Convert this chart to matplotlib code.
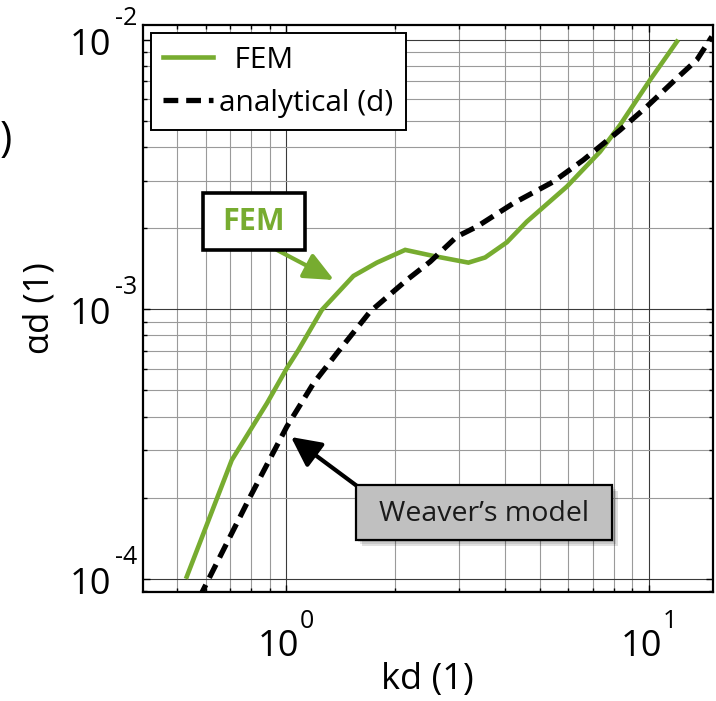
import matplotlib
matplotlib.use("Agg")
import matplotlib.pyplot as plt
import matplotlib.ticker as mticker
from matplotlib.patches import Rectangle, FancyArrowPatch
import numpy as np

plt.rcParams['font.family'] = ['Open Sans', 'DejaVu Sans']

# ---- data ----
fem_kd = [0.532, 0.708, 0.885, 1.004, 1.081, 1.254, 1.533, 1.779, 2.129, 2.547,
          3.181, 3.537, 4.060, 4.609, 5.940, 7.339, 8.333, 10.08, 11.95]
fem_ad = [1.02e-4, 2.76e-4, 4.48e-4, 6.04e-4, 7.06e-4, 9.94e-4, 1.329e-3, 1.489e-3,
          1.660e-3, 1.576e-3, 1.489e-3, 1.556e-3, 1.771e-3, 2.113e-3, 2.848e-3,
          3.839e-3, 4.825e-3, 7.085e-3, 9.82e-3]

ana_kd = [0.5756, 0.796, 1.004, 1.189, 1.380, 1.704, 2.151, 2.495, 2.955, 3.356,
          4.233, 5.458, 6.601, 8.333, 9.874, 11.95, 13.56, 14.92]
ana_ad = [8.5e-5, 2.02e-4, 3.67e-4, 5.31e-4, 6.87e-4, 9.80e-4, 1.284e-3, 1.501e-3,
          1.859e-3, 2.024e-3, 2.472e-3, 2.972e-3, 3.578e-3, 4.62e-3, 5.64e-3,
          7.19e-3, 8.40e-3, 1.025e-2]

xtick_exps = [0, 1]
ytick_exps = [-4, -3, -2]

xlim = (0.403, 15.0)
ylim = (8.95e-5, 1.132e-2)

GREEN = '#77AC30'
W, H = 716, 701

fig = plt.figure(figsize=(W / 100, H / 100), dpi=100)
ax = fig.add_axes([143 / W, 1 - 592 / H, (712.7 - 143) / W, (592 - 25) / H])
ax.set_xscale('log')
ax.set_yscale('log')
ax.set_xlim(*xlim)
ax.set_ylim(*ylim)

ax.grid(True, which='major', color='#3a3a3a', linewidth=0.8)
ax.grid(True, which='minor', color='#9a9a9a', linewidth=0.8)
ax.set_axisbelow(True)

ax.plot(fem_kd, fem_ad, color=GREEN, lw=3.3, label='  FEM', solid_joinstyle='miter')
ax.plot(ana_kd, ana_ad, color='black', lw=3.8, dashes=(2.8, 1.5), label='analytical (d)')

xt = [10.0 ** e for e in xtick_exps]
yt = [10.0 ** e for e in ytick_exps]
ax.set_xticks(xt)
ax.set_yticks(yt)
ax.xaxis.set_minor_locator(mticker.LogLocator(base=10, subs=np.arange(2, 10), numticks=20))
ax.yaxis.set_minor_locator(mticker.LogLocator(base=10, subs=np.arange(2, 10), numticks=20))
ax.xaxis.set_major_formatter(mticker.NullFormatter())
ax.yaxis.set_major_formatter(mticker.NullFormatter())
ax.xaxis.set_minor_formatter(mticker.NullFormatter())
ax.yaxis.set_minor_formatter(mticker.NullFormatter())

ax.tick_params(which='both', direction='in', top=True, right=True, width=1.0, colors='black')
ax.tick_params(which='major', length=5)
ax.tick_params(which='minor', length=3)
for s in ax.spines.values():
    s.set_linewidth(1.6)
    s.set_color('black')

# tick labels: "10" with a raised exponent (MATLAB style)
BASE_FS, EXP_FS = 26, 18
for v, e in zip(xt, xtick_exps):
    ax.annotate('10', xy=(v, 0), xycoords=('data', 'axes fraction'),
                xytext=(13, -64), textcoords='offset pixels', ha='right', va='baseline',
                fontsize=BASE_FS, annotation_clip=False)
    ax.annotate(str(e), xy=(v, 0), xycoords=('data', 'axes fraction'),
                xytext=(14, -36), textcoords='offset pixels', ha='left', va='baseline',
                fontsize=EXP_FS, annotation_clip=False)
for v, e in zip(yt, ytick_exps):
    ax.annotate('10', xy=(0, v), xycoords=('axes fraction', 'data'),
                xytext=(-32, -15), textcoords='offset pixels', ha='right', va='baseline',
                fontsize=BASE_FS, annotation_clip=False)
    ax.annotate(str(e).replace('\u2212', '-'), xy=(0, v), xycoords=('axes fraction', 'data'),
                xytext=(-28, 15), textcoords='offset pixels', ha='left', va='baseline',
                fontsize=EXP_FS, annotation_clip=False)

ax.set_xlabel('kd (1)', fontsize=26)
ax.xaxis.set_label_coords(0.5, (592 - 662) / 567)
ax.set_ylabel('αd (1)', fontsize=25)
ax.yaxis.set_label_coords((57 - 143) / 569.7, 0.5)

leg = ax.legend(loc='upper left', bbox_to_anchor=((150.7 - 143) / (712.7 - 143), 1 - (33 - 25) / 567),
                borderaxespad=0, fontsize=21.5, handlelength=1.65, handletextpad=0.22,
                borderpad=0.42, labelspacing=0.47, fancybox=False, framealpha=1,
                edgecolor='black')
leg.get_frame().set_linewidth(1.4)

def figrect(x0, y0, x1, y1, **kw):
    r = Rectangle((x0 / W, 1 - y1 / H), (x1 - x0) / W, (y1 - y0) / H,
                  transform=fig.transFigure, **kw)
    fig.add_artist(r)
    return r

# FEM annotation box
figrect(203, 193, 305, 250, facecolor='white', edgecolor='black', linewidth=2.6, zorder=10)
fig.text(254 / W, 1 - 222 / H, 'FEM', color=GREEN, fontsize=22, fontweight='bold',
         ha='center', va='center', zorder=11)
fig.add_artist(FancyArrowPatch(
    (277 / W, 1 - 250 / H), (334 / W, 1 - 280 / H), transform=fig.transFigure,
    arrowstyle='-|>,head_length=1.0,head_width=0.45', mutation_scale=18,
    color=GREEN, lw=3.0, shrinkA=0, shrinkB=0, zorder=9))

# Weaver's model box with shadow
for k, a in enumerate([0.10, 0.10, 0.12]):
    d = 2 + 2 * k
    figrect(356 + d, 485 + d, 612 + d, 540 + d, facecolor='black', edgecolor='none',
            alpha=a, zorder=9)
figrect(356, 485, 612, 540, facecolor='#c0c0c0', edgecolor='black', linewidth=1.6, zorder=10)
fig.text(484 / W, 1 - 514 / H, 'Weaver’s model', color='#1a1a1a', fontsize=20.5,
         ha='center', va='center', zorder=11)
fig.add_artist(FancyArrowPatch(
    (357 / W, 1 - 486 / H), (291 / W, 1 - 437 / H), transform=fig.transFigure,
    arrowstyle='-|>,head_length=1.0,head_width=0.5', mutation_scale=18,
    color='black', lw=3.0, shrinkA=0, shrinkB=0, zorder=9))

# partial glyph from neighbouring panel at the left edge
fig.text(0, 1 - 140 / H, ')', fontsize=30, ha='left', va='center')

fig.savefig('out.png', dpi=100)
